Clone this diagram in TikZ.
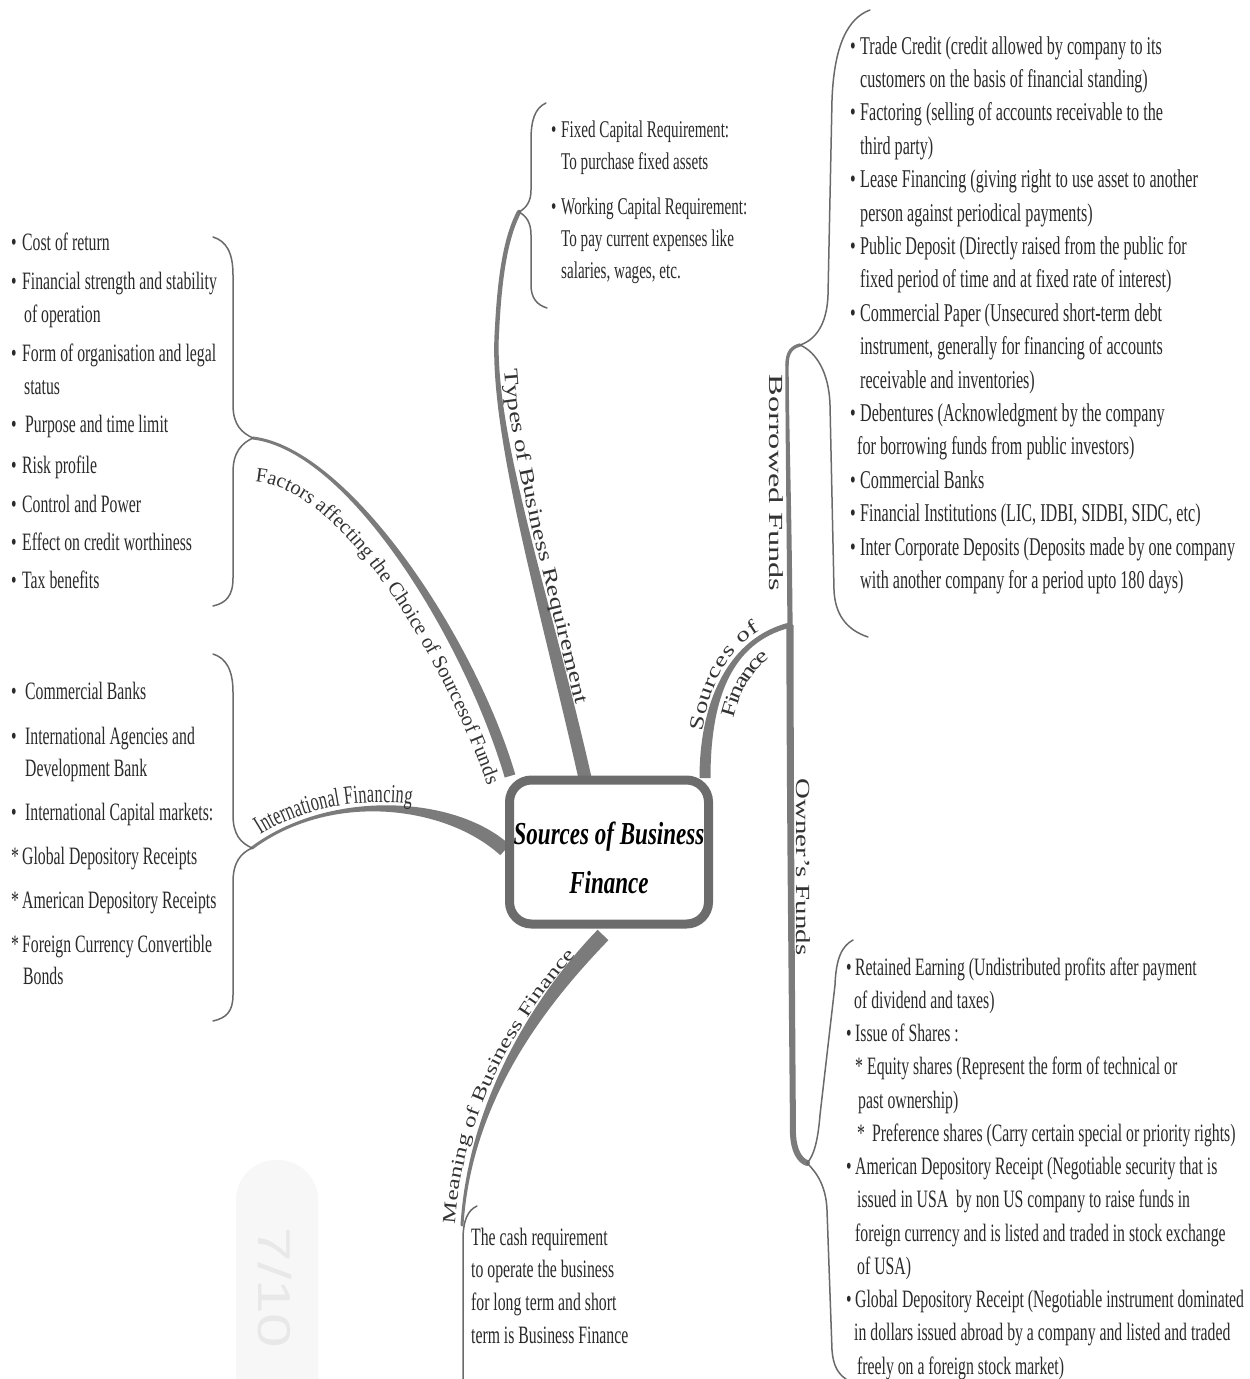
\documentclass[tikz,border=0pt]{standalone}
\usepackage{fontspec}
\setmainfont{Liberation Serif}
\newfontfamily\cond[FakeStretch=0.63]{Liberation Serif}
\newfontfamily\labwide[FakeStretch=1.35]{Liberation Serif}
\newfontfamily\corefont[FakeStretch=0.72]{Liberation Serif}
\newfontfamily\wmfont{Liberation Sans}
\usetikzlibrary{calc,decorations.text}

\definecolor{branch}{HTML}{7B7B7B}
\definecolor{boxgray}{HTML}{6C6C6C}
\definecolor{bracegray}{HTML}{6A6A6A}
\definecolor{txt}{HTML}{2A2A2A}
\definecolor{labtxt}{HTML}{333333}
\definecolor{wmfill}{HTML}{F7F7F7}
\definecolor{wmtxt}{HTML}{E8E8E8}

% bullet with fixed advance, and hanging indent for continuation lines
\newcommand\bu[1][10pt]{\makebox[#1][l]{\textbullet}}
\newcommand\ind[1][10pt]{\hspace*{#1}}

% tapering branch: start, control 1, control 2, end, half width at start, half width at end
\newcommand\taper[6]{%
  \coordinate (tpA) at (#1); \coordinate (tpB) at (#2);
  \coordinate (tpC) at (#3); \coordinate (tpD) at (#4);
  \coordinate (tpA1) at ($(tpA)!#5!90:(tpB)$);
  \coordinate (tpA2) at ($(tpA)!#5!-90:(tpB)$);
  \coordinate (tpD1) at ($(tpD)!#6!-90:(tpC)$);
  \coordinate (tpD2) at ($(tpD)!#6!90:(tpC)$);
  \fill[branch] (tpA1) .. controls ($(tpB)+(tpA1)-(tpA)$) and ($(tpC)+(tpD1)-(tpD)$) .. (tpD1)
     -- (tpD2) .. controls ($(tpC)+(tpD2)-(tpD)$) and ($(tpB)+(tpA2)-(tpA)$) .. (tpA2) -- cycle;
  \fill[branch] (tpD) circle[radius=#6];
}

\tikzset{
  list/.style={anchor=north west, inner sep=0pt, align=left, text=txt},
  lab/.style={text=labtxt, inner sep=0pt},
  brace/.style={draw=bracegray, line width=1.5pt, line cap=round, line join=round},
  thinbranch/.style={draw=branch, line cap=round},
  corebox/.style={draw=boxgray, line width=9pt, rounded corners=22pt, fill=white,
    minimum width=199pt, minimum height=144pt, inner sep=0pt},
  coretext/.style={inner sep=0pt, align=center, text=black,
    font=\corefont\bfseries\itshape\fontsize{32}{49}\selectfont},
}

\begin{document}
\begin{tikzpicture}[x=1pt,y=-1pt]
\fill[white] (0,0) rectangle (1250,1379);
\useasboundingbox (0,0) rectangle (1250,1379);

% faint page number tab
\fill[wmfill, rounded corners=40pt] (236,1160) rectangle (318,1440);
\node[rotate=-90, text=wmtxt, inner sep=0pt, font=\wmfont\fontsize{46}{46}\selectfont] (pageno) at (275,1288) {\scalebox{1.35}[1]{7/10}};

% branch end points
\coordinate (typesRoot) at (585,778);
\coordinate (typesBend) at (497,330);
\coordinate (typesTip) at (519,212);
\coordinate (factorsRoot) at (510,776);
\coordinate (factorsTip) at (253,438);
\coordinate (intlRoot) at (505,850);
\coordinate (intlTip) at (252,848);
\coordinate (meaningRoot) at (603,935);
\coordinate (meaningTip) at (462,1225);
\coordinate (sourcesRoot) at (705,778);
\coordinate (fork) at (790,625);
\coordinate (borrowedBend) at (787,365);
\coordinate (borrowedTip) at (800,345);
\coordinate (ownersBend) at (793,1135);
\coordinate (ownersTip) at (807,1163);

% branches
\taper{typesRoot}{545,600}{490,430}{typesBend}{6.5pt}{2.2pt}
\draw[thinbranch, line width=4.4pt] (typesBend) .. controls (500,270) and (507,235) .. (typesTip);
\taper{factorsRoot}{470,640}{350,450}{factorsTip}{5.5pt}{1.5pt}
\taper{intlRoot}{450,800}{330,790}{intlTip}{7pt}{1.5pt}
\taper{meaningRoot}{540,1000}{470,1100}{meaningTip}{7.5pt}{1.5pt}
\taper{sourcesRoot}{705,700}{730,640}{fork}{5.5pt}{2.6pt}
\taper{fork}{789,500}{787,420}{borrowedBend}{2.6pt}{1.7pt}
\draw[thinbranch, line width=3.4pt] (borrowedBend) .. controls (787,352) and (792,347) .. (borrowedTip);
\taper{fork}{790,800}{792,1000}{ownersBend}{3.6pt}{3pt}
\draw[thinbranch, line width=6pt] (ownersBend) .. controls (794,1150) and (799,1160) .. (ownersTip);

% braces
\draw[brace] (546,103) .. controls (535,108) and (531,120) .. (531,140) -- (531,190)
  .. controls (531,202) and (526,208) .. (typesTip) .. controls (526,216) and (531,222) .. (531,235)
  -- (531,285) .. controls (531,298) and (537,305) .. (547,308);
\draw[brace] (213,237) .. controls (226,241) and (233,252) .. (233,275) -- (233,405)
  .. controls (233,425) and (242,433) .. (factorsTip) .. controls (242,443) and (233,452) .. (233,472)
  -- (233,578) .. controls (233,596) and (226,603) .. (213,606);
\draw[brace] (213,654) .. controls (226,658) and (233,670) .. (233,692) -- (233,815)
  .. controls (233,835) and (241,843) .. (intlTip) .. controls (241,853) and (233,862) .. (233,882)
  -- (233,995) .. controls (233,1012) and (226,1018) .. (213,1021);
\draw[brace] (870,10) .. controls (848,18) and (834,45) .. (832,100) -- (828,295)
  .. controls (827,325) and (815,340) .. (borrowedTip) .. controls (816,352) and (829,372) .. (830,405)
  -- (834,590) .. controls (835,615) and (847,630) .. (868,637);
\draw[brace] (853,940) .. controls (842,946) and (836,958) .. (835,985) -- (820,1115)
  .. controls (818,1140) and (814,1156) .. (ownersTip) .. controls (816,1172) and (826,1185) .. (827,1210)
  -- (832,1350) .. controls (833,1365) and (838,1374) .. (846,1379);
\draw[brace] (477,1206) .. controls (468,1210) and (463,1220) .. (463,1240) -- (463,1390);

% centre topic
\node[corebox] (core) at (609,852) {};
\node[coretext] (coreLabel) at (609,858) {Sources of Business\\Finance};

% branch labels
\path[decorate, decoration={text along path, text color=labtxt, text align={left indent=40pt}, raise=8pt,
  text={|\labwide\fontsize{20}{20}\selectfont|Types of Business Requirement}}]
  (typesBend) .. controls (490,430) and (545,600) .. (typesRoot);
\path[decorate, decoration={text along path, text color=labtxt, text align=center,
  text={|\fontsize{20.5}{20.5}\selectfont|Factors affecting the Choice of Sourcesof Funds}}]
  (248,482) .. controls (335,478) and (440,650) .. (490,792);
\path[decorate, decoration={text along path, text color=labtxt, text align={left indent=14pt}, raise=6pt,
  text={|\cond\fontsize{26}{26}\selectfont|International Financing}}]
  (intlTip) .. controls (330,790) and (450,800) .. (intlRoot);
\path[decorate, decoration={text along path, text color=labtxt, text align={left indent=0pt}, raise=7pt,
  text={|\labwide\fontsize{18.5}{18.5}\selectfont|Meaning of Business Finance}}]
  (meaningTip) .. controls (470,1100) and (540,1000) .. (meaningRoot);
\path[decorate, decoration={text along path, text color=labtxt, text align={left indent=46pt}, raise=6pt,
  text={|\labwide\fontsize{20}{20}\selectfont|Sources of}}]
  (sourcesRoot) .. controls (705,700) and (730,640) .. (fork);
\path[decorate, decoration={text along path, text color=labtxt, text align={left indent=66pt}, raise=-22pt,
  text={|\labwide\fontsize{20}{20}\selectfont|Finance}}]
  (sourcesRoot) .. controls (705,700) and (730,640) .. (fork);
\node[lab, rotate=-90, font=\labwide\fontsize{20}{20}\selectfont] (borrowedLabel) at (776,483)
  {\scalebox{1.2}[1]{Borrowed Funds}};
\node[lab, rotate=-90, font=\labwide\fontsize{20}{20}\selectfont] (ownersLabel) at (803,867)
  {\scalebox{1.07}[1]{Owner’s Funds}};

% lists
\node[list, font=\cond\fontsize{24}{32}\selectfont] (typesList) at (551,114.6)
  {\strut\bu Fixed Capital Requirement:\\
   \ind To purchase fixed assets\\[13.5pt]
   \bu Working Capital Requirement:\\
   \ind To pay current expenses like\\
   \ind salaries, wages, etc.};

\node[list, font=\cond\fontsize{25}{33}\selectfont] (factorsList) at (11,227)
  {\strut\bu[11pt]Cost of return\\[6pt]
   \bu[11pt]Financial strength and stability\\
   \ind[13pt]of operation\\[6pt]
   \bu[11pt]Form of organisation and legal\\
   \ind[13pt]status\\[5pt]
   \bu[14pt]Purpose and time limit\\[8pt]
   \bu[11pt]Risk profile\\[6pt]
   \bu[11pt]Control and Power\\[5pt]
   \bu[11pt]Effect on credit worthiness\\[5pt]
   \bu[11pt]Tax benefits};

\node[list, font=\cond\fontsize{25}{32.5}\selectfont] (intlList) at (11,677)
  {\strut\bu[14pt]Commercial Banks\\[12pt]
   \bu[14pt]International Agencies and\\
   \ind[14pt]Development Bank\\[11pt]
   \bu[14pt]International Capital markets:\\[11.5pt]
   \makebox[11pt][l]{*}Global Depository Receipts\\[11.5pt]
   \makebox[11pt][l]{*}American Depository Receipts\\[11.5pt]
   \makebox[11pt][l]{*}Foreign Currency Convertible\\
   \ind[12pt]Bonds};

\node[list, font=\cond\fontsize{25.6}{33.4}\selectfont] (borrowedList) at (850,30.6)
  {\strut\bu Trade Credit (credit allowed by company to its\\
   \ind customers on the basis of financial standing)\\
   \bu Factoring (selling of accounts receivable to the\\
   \ind third party)\\
   \bu Lease Financing (giving right to use asset to another\\
   \ind person against periodical payments)\\
   \bu Public Deposit (Directly raised from the public for\\
   \ind fixed period of time and at fixed rate of interest)\\
   \bu Commercial Paper (Unsecured short-term debt\\
   \ind instrument, generally for financing of accounts\\
   \ind receivable and inventories)\\
   \bu Debentures (Acknowledgment by the company\\
   \ind[7pt]for borrowing funds from public investors)\\
   \bu Commercial Banks\\
   \bu Financial Institutions (LIC, IDBI, SIDBI, SIDC, etc)\\
   \bu Inter Corporate Deposits (Deposits made by one company\\
   \ind with another company for a period upto 180 days)};

\node[list, font=\cond\fontsize{25}{33.25}\selectfont] (ownersList) at (846,951.7)
  {\strut\bu[9pt]Retained Earning (Undistributed profits after payment\\
   \ind[8pt]of dividend and taxes)\\
   \bu[9pt]Issue of Shares :\\
   \ind[9pt]*\,Equity shares (Represent the form of technical or\\
   \ind[12pt]past ownership)\\
   \ind[11pt]*\hspace{7pt}Preference shares (Carry certain special or priority rights)\\
   \bu[9pt]American Depository Receipt (Negotiable security that is\\
   \ind[11pt]issued in USA\ \ by non US company to raise funds in\\
   \ind[9pt]foreign currency and is listed and traded in stock exchange\\
   \ind[11pt]of USA)\\
   \bu[9pt]Global Depository Receipt (Negotiable instrument dominated\\
   \ind[8pt]in dollars issued abroad by a company and listed and traded\\
   \ind[11pt]freely on a foreign stock market)};

\node[list, font=\cond\fontsize{25}{32.7}\selectfont] (meaningText) at (471,1222)
  {\strut The cash requirement\\
   to operate the business\\
   for long term and short\\
   term is Business Finance};
\end{tikzpicture}
\end{document}
